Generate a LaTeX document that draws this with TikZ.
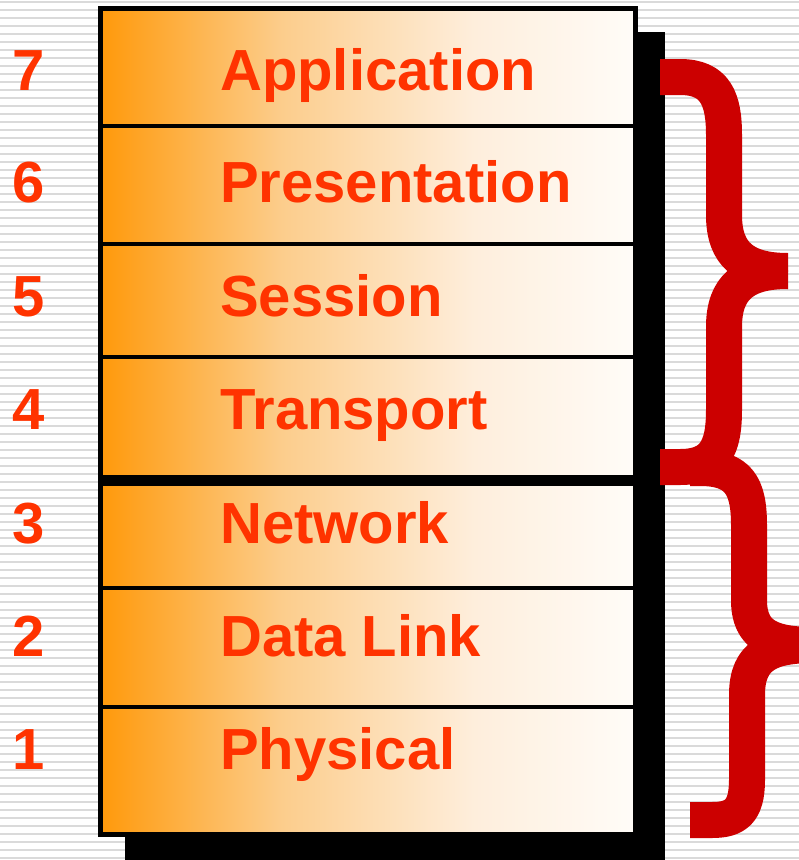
\documentclass[tikz,border=0pt]{standalone}
\usepackage{fontspec}
\setmainfont{Liberation Sans}
\definecolor{stripe}{RGB}{218,218,218}
\definecolor{labelred}{RGB}{255,51,0}
\definecolor{bracered}{RGB}{204,0,0}
\definecolor{gA}{RGB}{255,153,10}
\definecolor{gB}{RGB}{252,205,140}
\definecolor{gC}{RGB}{254,238,220}
\definecolor{gD}{RGB}{255,252,248}
\pgfdeclarehorizontalshading{layershade}{100bp}{color(0bp)=(gA); color(25bp)=(gA); color(42bp)=(gB); color(60bp)=(gC); color(75bp)=(gD); color(100bp)=(gD)}
\begin{document}
\begin{tikzpicture}[x=1pt,y=-1pt,
  layertext/.style={anchor=base west,inner sep=0pt,text=labelred,font=\fontsize{58}{60}\selectfont\bfseries},
  numtext/.style={anchor=base west,inner sep=0pt,text=labelred,font=\fontsize{58}{60}\selectfont\bfseries},
  divider/.style={line width=4pt},
  bracestroke/.style={draw=bracered,line width=36pt,line cap=butt,line join=round}]
\useasboundingbox (0,0) rectangle (799,860);
\clip (0,0) rectangle (799,860);
\fill[white] (0,0) rectangle (799,860);
\foreach \k in {0,...,107} {
  \fill[stripe] (0,{0.5+8*\k}) rectangle (799,{3+8*\k});
}
% shadow
\fill[black] (125,32) rectangle (665,860);
% box
\shade[shading=layershade] (100,8) rectangle (635,834);
\draw[line width=5pt] (100,8) rectangle (635,834);
\foreach \yy in {126,244,357,588,707} {
  \draw[divider] (100,\yy) -- (635,\yy);
}
\draw[line width=11pt] (100,480.5) -- (635,480.5);
% labels
\node[layertext] (app) at (220,90) {Application};
\node[layertext] (pres) at (220,202) {Presentation};
\node[layertext] (sess) at (220,316) {Session};
\node[layertext] (trans) at (220,429) {Transport};
\node[layertext] (net) at (220,543) {Network};
\node[layertext] (dl) at (220,656) {Data Link};
\node[layertext] (phys) at (220,769) {Physical};
\node[numtext] (n7) at (12,90) {7};
\node[numtext] (n6) at (12,202) {6};
\node[numtext] (n5) at (12,316) {5};
\node[numtext] (n4) at (12,429) {4};
\node[numtext] (n3) at (12,543) {3};
\node[numtext] (n2) at (12,656) {2};
\node[numtext] (n1) at (12,769) {1};
% brace 2 (lower)
\draw[bracestroke] (690,468) -- (700,468) .. controls (738,468) and (749,485) .. (749,525) -- (749,600) .. controls (749,635) and (770,645) .. (815,645);
\draw[bracestroke] (815,645) .. controls (770,645) and (747,655) .. (747,695) -- (747,780) .. controls (747,812) and (735,820) .. (712,820) -- (690,820);
% brace 1 (upper)
\draw[bracestroke] (660,77) -- (680,77) .. controls (716,77) and (724,100) .. (724,135) -- (724,215) .. controls (724,255) and (745,271) .. (788,271);
\draw[bracestroke] (788,271) .. controls (745,271) and (724,287) .. (724,327) -- (724,410) .. controls (724,449) and (714,467) .. (680,467) -- (660,467);
\end{tikzpicture}
\end{document}
